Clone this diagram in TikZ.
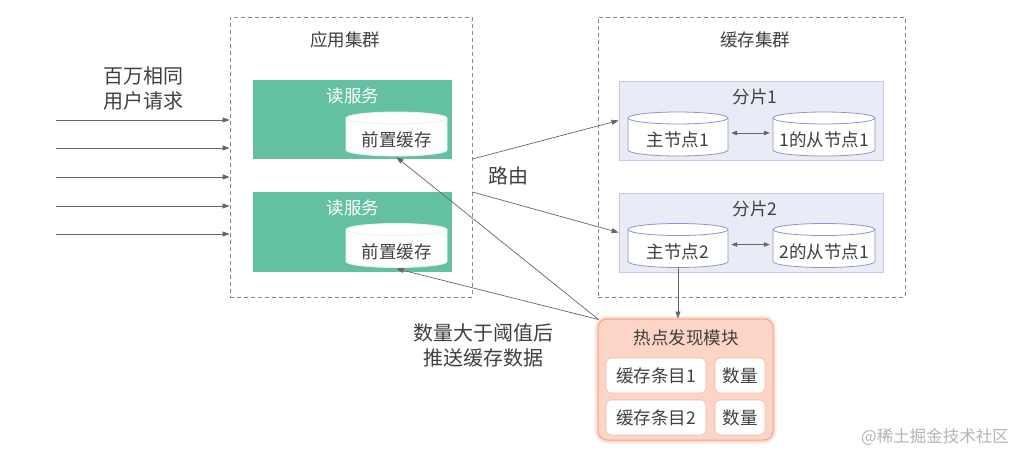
\documentclass[tikz,border=0pt]{standalone}
\usepackage{fontspec}
\setmainfont{Noto Sans CJK SC}
\usetikzlibrary{arrows.meta,calc}
\definecolor{txt}{HTML}{404040}
\definecolor{grn}{HTML}{64C1A0}
\definecolor{dsh}{HTML}{8A8A8A}
\definecolor{lav}{HTML}{E9EBF7}
\definecolor{lavb}{HTML}{C5CAE6}
\definecolor{cylb}{HTML}{8E95C7}
\definecolor{cylg}{HTML}{E6F4EE}
\definecolor{org}{HTML}{FCD5C6}
\definecolor{orgb}{HTML}{F4A68B}
\definecolor{arr}{HTML}{666666}
\definecolor{wm}{HTML}{B4B4B4}
\newcommand\dbcyl[6]{%
  \path[fill=white, draw=#6, line width=0.8pt] (#2-#4/2, #3-16) -- (#2-#4/2, #3+16)
    arc[start angle=180, end angle=0, x radius=#4/2, y radius=6] -- (#2+#4/2, #3-16)
    arc[start angle=0, end angle=-180, x radius=#4/2, y radius=6] -- cycle;
  \draw[#6, line width=0.8pt] (#2-#4/2, #3-16) arc[start angle=180, end angle=0, x radius=#4/2, y radius=6];
  \node[cyltext, minimum width=#4] (#1) at (#2,#3) {#5};
}
\tikzset{
  cyltext/.style={inner sep=0pt, text height=34.5pt, text depth=9.5pt, text=txt,
    font=\fontsize{17.5}{20}\selectfont},
  cluster/.style={draw=dsh, line width=0.8pt, dash pattern=on 4pt off 3pt, inner sep=0pt},
  svc/.style={fill=grn, draw=none, inner sep=0pt},
  shard/.style={fill=lav, draw=lavb, line width=0.8pt, inner sep=0pt},
  ttl/.style={text=txt, font=\fontsize{17.5}{20}\selectfont, inner sep=0pt},
  wttl/.style={text=white, font=\fontsize{17.5}{20}\selectfont, inner sep=0pt},
  big/.style={text=txt, font=\fontsize{20}{25}\selectfont, align=center, inner sep=0pt},
  hotbox/.style={fill=org, draw=orgb, line width=1pt, rounded corners=9pt, inner sep=0pt,
    preaction={draw=orgb, draw opacity=0.18, line width=7pt},
    preaction={draw=orgb, draw opacity=0.25, line width=4pt}},
  item/.style={fill=white, draw=orgb!80, line width=0.6pt, rounded corners=5pt, inner sep=0pt,
    text=txt, font=\fontsize{17.5}{20}\selectfont},
  arrw/.style={draw=arr, line width=0.7pt, -{Triangle[length=7pt,width=5pt]}},
  darrw/.style={draw=arr, line width=0.7pt, {Triangle[length=6pt,width=4.5pt]}-{Triangle[length=6pt,width=4.5pt]}},
}
\begin{document}
\begin{tikzpicture}[x=1pt, y=-1pt]
\path[use as bounding box, fill=white] (0,0) rectangle (1023,455);

% app cluster
\node[cluster, minimum width=242pt, minimum height=280pt] (app) at (351,157) {};
\node[ttl] (appt) at (345,40) {应用集群};
\node[svc, minimum width=199pt, minimum height=79pt] (r1) at (352.5,119.5) {};
\node[wttl] (r1t) at (353,96) {读服务};
\dbcyl{c1}{396.5}{134}{101}{前置缓存}{cylg}
\node[svc, minimum width=199pt, minimum height=80pt] (r2) at (352.5,232) {};
\node[wttl] (r2t) at (353,208) {读服务};
\dbcyl{c2}{396.5}{245.5}{101}{前置缓存}{cylg}

% cache cluster
\node[cluster, minimum width=307pt, minimum height=280pt] (cache) at (751.5,157) {};
\node[ttl] (cachet) at (755,40) {缓存集群};
\node[shard, minimum width=264pt, minimum height=79pt] (sh1) at (751,120.5) {};
\node[ttl] (sh1t) at (755,97) {分片1};
\dbcyl{m1}{678}{134}{100}{主节点1}{cylb}
\dbcyl{s1}{824}{134}{102}{1的从节点1}{cylb}
\node[shard, minimum width=264pt, minimum height=79pt] (sh2) at (751,232.5) {};
\node[ttl] (sh2t) at (755,209) {分片2};
\dbcyl{m2}{678}{245.5}{100}{主节点2}{cylb}
\dbcyl{s2}{824}{245.5}{102}{2的从节点1}{cylb}

% hot spot module
\node[hotbox, minimum width=175pt, minimum height=121pt] (hot) at (685.5,379.5) {};
\node[ttl] (hott) at (686,338) {热点发现模块};
\node[item, minimum width=100pt, minimum height=35pt] (e1) at (656,375.5) {缓存条目1};
\node[item, minimum width=50pt, minimum height=35pt] (n1) at (740,375.5) {数量};
\node[item, minimum width=100pt, minimum height=35pt] (e2) at (656,417.5) {缓存条目2};
\node[item, minimum width=50pt, minimum height=35pt] (n2) at (740,417.5) {数量};

% labels
\node[big] (req) at (143,88) {百万相同\\用户请求};
\node[big] (route) at (508,176) {路由};
\node[big] (push) at (483,345) {数量大于阈值后\\推送缓存数据};
\node[text=wm, font=\fontsize{16.5}{20}\selectfont, inner sep=0pt] (wmk) at (935,437) {@稀土掘金技术社区};

% request arrows
\foreach \i/\yy in {1/120,2/148,3/177,4/206,5/234}{
  \coordinate (l\i) at (56,\yy);
  \draw[arrw] (l\i) -- (l\i -| app.west);
}

% routing
\draw[arrw] ([yshift=-2pt]app.east) -- (sh1.west);
\draw[arrw] ([yshift=-35pt]app.east) -- (sh2.west);

% master-slave
\draw[darrw] ([yshift=1pt,xshift=3pt]m1.east) -- ([yshift=1pt,xshift=-3pt]s1.west);
\draw[darrw] ([yshift=1pt,xshift=3pt]m2.east) -- ([yshift=1pt,xshift=-3pt]s2.west);

% to hot module
\draw[arrw] (m2.south) -- (m2.south |- hot.north);

% push back
\draw[arrw] ([xshift=1pt,yshift=-1pt]hot.north west) -- ([yshift=-1pt]c1.south);
\draw[arrw] ([xshift=1pt,yshift=-1pt]hot.north west) -- ([yshift=-1pt]c2.south);
\end{tikzpicture}
\end{document}
